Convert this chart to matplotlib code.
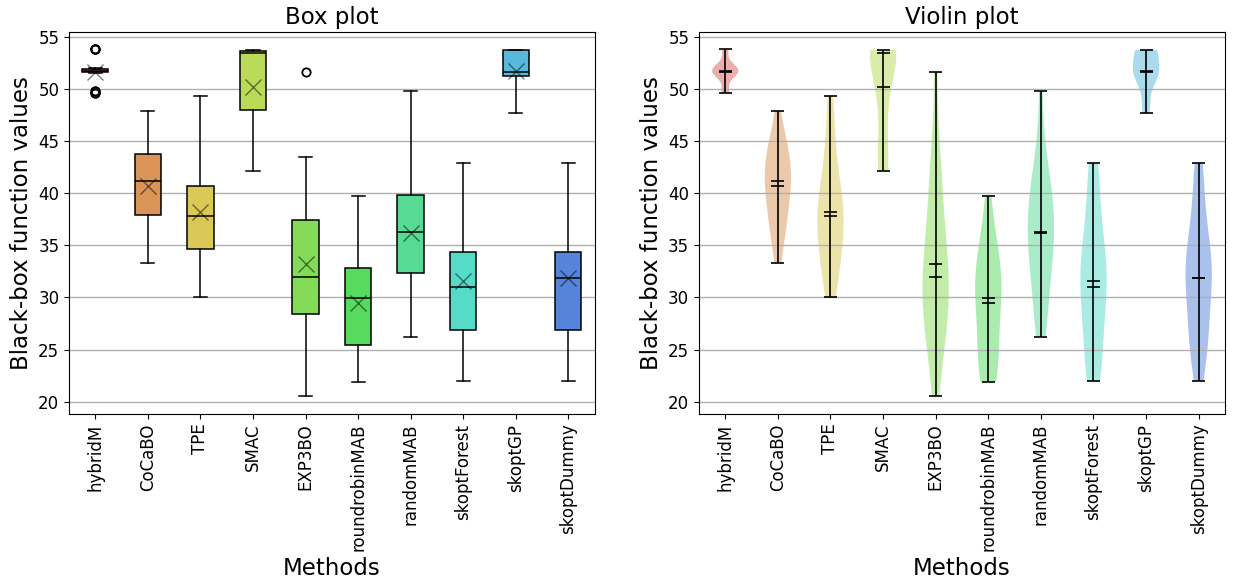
import colorsys
import numpy as np
import matplotlib
matplotlib.use("Agg")
import matplotlib.pyplot as plt

methods = ["hybridM", "CoCaBO", "TPE", "SMAC", "EXP3BO", "roundrobinMAB",
           "randomMAB", "skoptForest", "skoptGP", "skoptDummy"]

# black-box function values per method
hybridM = [49.6, 49.6, 49.8, 49.8, 51.5, 51.6, 51.6, 51.65, 51.7, 51.7, 51.7,
           51.75, 51.8, 51.8, 51.85, 51.9, 51.95, 52.0, 53.8, 53.8, 53.8]
cocabo = [33.3, 34.8, 36.0, 36.9, 37.5, 37.95, 38.6, 39.5, 40.2, 40.8, 41.15,
          41.3, 41.6, 42.0, 42.6, 43.8, 44.0, 44.3, 44.9, 45.5, 47.85]
tpe = [30.0, 31.0, 32.2, 33.3, 34.0, 34.6, 35.3, 36.0, 36.7, 37.3, 37.8,
       38.3, 38.8, 39.4, 40.0, 40.65, 41.6, 43.5, 45.0, 47.3, 49.3]
smac = [42.15, 42.5, 43.0, 43.5, 44.5, 47.95, 48.3, 49.2, 50.5, 52.0, 53.45,
        53.5, 53.55, 53.6, 53.6, 53.65, 53.7, 53.7, 53.75, 53.75, 53.75]
exp3bo = [20.5, 23.5, 25.5, 26.8, 27.8, 28.45, 29.2, 29.9, 30.6, 31.3, 31.95,
          32.6, 33.4, 34.5, 35.8, 37.4, 39.2, 41.0, 42.7, 43.5, 51.6]
roundrobin = [21.9, 22.2, 22.6, 23.3, 24.3, 25.45, 26.3, 27.3, 28.2, 29.2, 29.95,
              30.6, 31.1, 31.7, 32.3, 32.8, 33.6, 34.4, 35.6, 37.0, 39.7]
random_mab = [26.25, 27.2, 28.5, 30.0, 31.6, 32.35, 33.3, 34.2, 35.0, 35.7, 36.25,
              36.8, 37.4, 38.1, 39.0, 39.85, 40.3, 41.3, 42.5, 44.5, 49.8]
skopt_forest = [21.95, 22.4, 23.2, 24.3, 25.6, 26.9, 28.6, 29.7, 30.5, 30.9, 31.0,
                32.2, 33.1, 33.9, 34.3, 34.4, 36.5, 38.5, 40.6, 42.2, 42.85]
skopt_gp = [47.7, 48.0, 48.8, 49.8, 50.6, 51.2, 51.3, 51.45, 51.55, 51.6, 51.65,
            51.8, 52.2, 52.7, 53.2, 53.75, 53.75, 53.75, 53.75, 53.75, 53.75]
skopt_dummy = [21.95, 24.2, 25.1, 25.7, 26.4, 26.9, 28.6, 30.0, 31.0, 31.6, 31.9,
               32.6, 33.3, 33.8, 34.2, 34.4, 36.2, 38.0, 39.8, 41.6, 42.85]

data = [hybridM, cocabo, tpe, smac, exp3bo, roundrobin, random_mab,
        skopt_forest, skopt_gp, skopt_dummy]


def hls_colors(n_total, n_used, h=0.01, l=0.6, s=0.65):
    """Same spacing as seaborn's hls palette."""
    hues = (np.linspace(0, 1, n_total + 1)[:-1] + h) % 1
    return [colorsys.hls_to_rgb(hh, l, s) for hh in hues[:n_used]]


def main():
    colors = hls_colors(15, len(methods))
    pos = np.arange(1, len(methods) + 1)

    fig = plt.figure(figsize=[12.33, 5.82], dpi=100)
    ax1 = fig.add_axes([0.056, 0.289, 0.4262, 0.656])
    ax2 = fig.add_axes([0.5669, 0.289, 0.4266, 0.656])

    # box plot
    bp = ax1.boxplot(
        data,
        positions=pos,
        patch_artist=True,
        showmeans=True,
        meanprops=dict(marker="x", markeredgecolor="black", markersize=11,
                       alpha=0.5, markeredgewidth=1.0),
        medianprops=dict(color="black", lw=1.1),
        whiskerprops=dict(color="black", lw=1.1),
        capprops=dict(color="black", lw=1.1),
        boxprops=dict(edgecolor="black", lw=1.1),
        flierprops=dict(marker="o", markerfacecolor="none",
                        markeredgecolor="black", markersize=6, markeredgewidth=1.3),
    )
    for patch, c in zip(bp["boxes"], colors):
        patch.set_facecolor(c)

    # violin plot
    vp = ax2.violinplot(data, positions=pos, showmeans=True, showmedians=True,
                        showextrema=True)
    for body, c in zip(vp["bodies"], colors):
        body.set_facecolor(c)
        body.set_edgecolor("none")
        body.set_alpha(0.5)
    for key in ["cmeans", "cmedians", "cmaxes", "cmins", "cbars"]:
        vp[key].set_color("black")
        vp[key].set_linewidth(1.2)

    for ax, title in zip([ax1, ax2], ["Box plot", "Violin plot"]):
        ax.set_xticks(pos)
        ax.set_xticklabels(methods, rotation=90, fontsize=12)
        ax.tick_params(axis="y", labelsize=12)
        ax.set_yticks([20, 25, 30, 35, 40, 45, 50, 55])
        ax.yaxis.grid(True, color="#b0b0b0", lw=1.0)
        ax.set_xlim(0.5, len(methods) + 0.5)
        ax.set_title(title, fontsize=16.5)
        ax.set_xlabel("Methods", fontsize=16.5)
        ax.set_ylabel("Black-box function values", fontsize=16.5)

    plt.savefig("out.png", dpi=100)
    plt.close()


if __name__ == "__main__":
    main()
